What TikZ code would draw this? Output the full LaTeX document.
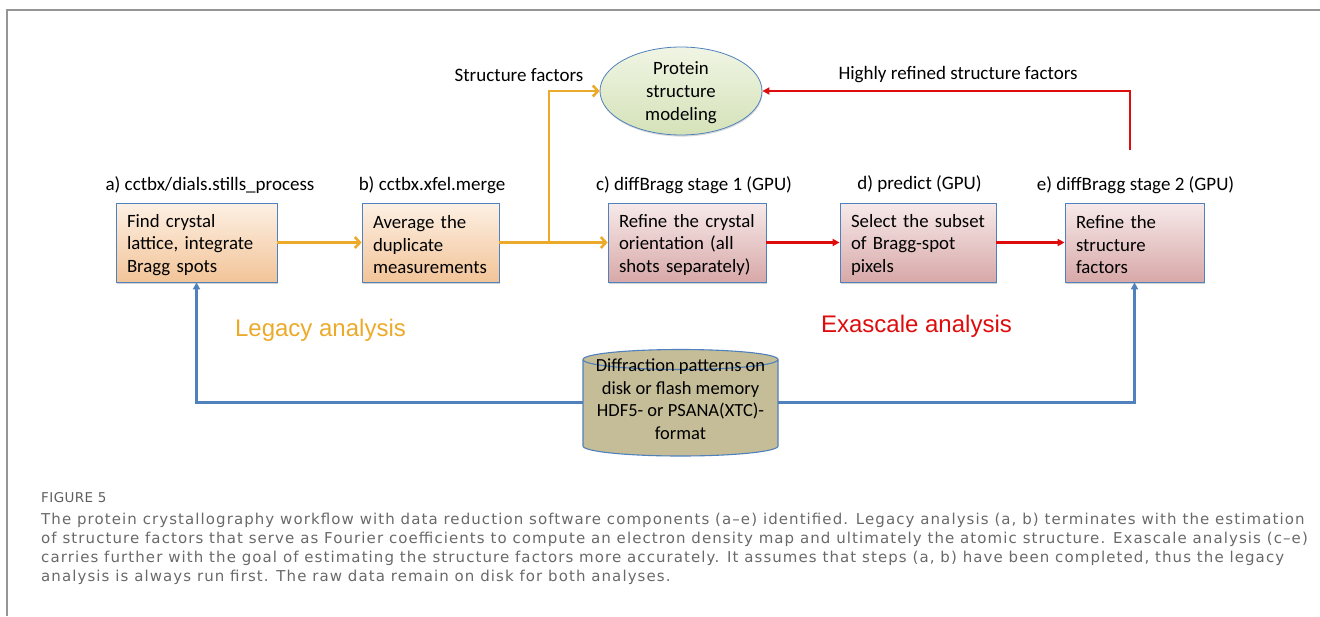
\documentclass[tikz,border=0pt]{standalone}
\usepackage{fontspec}
\setmainfont{Carlito}
\newfontfamily\capfont[LetterSpace=7.2]{DejaVu Sans}
\newfontfamily\figfont[LetterSpace=3]{DejaVu Sans}
\newfontfamily\arialfont{Liberation Sans}
\usetikzlibrary{arrows.meta,shadows,shapes.geometric,calc}
\definecolor{orng}{RGB}{236,170,42}
\definecolor{rd}{RGB}{222,12,12}
\definecolor{blu}{RGB}{79,129,189}
\definecolor{peachT}{RGB}{253,240,228}
\definecolor{peachB}{RGB}{242,196,152}
\definecolor{pinkT}{RGB}{247,234,234}
\definecolor{pinkB}{RGB}{216,168,168}
\definecolor{grnT}{RGB}{240,245,228}
\definecolor{grnB}{RGB}{212,226,184}
\definecolor{cyl}{RGB}{196,189,151}
\definecolor{capgray}{RGB}{105,105,105}
\definecolor{framegray}{RGB}{150,150,150}
\begin{document}
\hyphenpenalty=10000
\exhyphenpenalty=10000
\begin{tikzpicture}[x=1pt,y=-1pt,
  boxfont/.style={font=\fontsize{18.8}{22.5}\selectfont},
  proc/.style={draw=blu, line width=0.8pt, minimum height=79pt, inner xsep=11pt, inner ysep=0pt,
    align=left, boxfont, text height=18pt, drop shadow={shadow xshift=0.6pt, shadow yshift=-1.6pt, opacity=0.35}},
  legacybox/.style={proc, top color=peachT, bottom color=peachB},
  exabox/.style={proc, top color=pinkT, bottom color=pinkB},
  lbl/.style={font=\fontsize{19}{22}\selectfont, inner sep=0pt},
  oarr/.style={draw=orng, line width=2.8pt, -{Straight Barb[length=5pt,width=11pt,line width=2.6pt]}},
  rarr/.style={draw=rd, line width=2.6pt, -{Triangle[length=7pt,width=7pt]}},
  barr/.style={draw=blu, line width=2.4pt, -{Triangle[length=7pt,width=7pt]}},
  captxt/.style={font=\capfont\fontsize{15}{19}\selectfont, text=capgray, inner sep=0pt, anchor=west}
]
\useasboundingbox (0,0) rectangle (1320,616);
% frame
\draw[framegray, line width=2pt] (1320,10) -- (7,10) -- (7,616);

% boxes
\node[legacybox, text width=139pt] (a) at (196.5,242.5) {Find crystal\\lattice, integrate\\Bragg spots};
\node[legacybox, text width=115pt] (b) at (430.5,242.5) {Average the\\duplicate\\measurements};
\node[exabox, text width=136pt] (c) at (687,242.5) {Refine the crystal\\orientation (all\\shots separately)};
\node[exabox, text width=134pt] (d) at (918,242.5) {Select the subset\\of Bragg-spot\\pixels};
\node[exabox, text width=117pt] (e) at (1134.5,242.5) {Refine the\\structure\\factors};

% labels
\node[lbl] (la) at (210,185) {a) cctbx/dials.stills\_process};
\node[lbl] (lb) at (432,185) {b) cctbx.xfel.merge};
\node[lbl] (lc) at (694,185) {c) diffBragg stage 1 (GPU)};
\node[lbl] (ld) at (919.5,184) {d) predict (GPU)};
\node[lbl] (le) at (1135.5,185) {e) diffBragg stage 2 (GPU)};

% ellipse
\node[ellipse, draw=blu, line width=0.8pt, top color=grnT, bottom color=grnB, minimum width=162pt, minimum height=88pt,
  inner sep=0pt, align=center, font=\fontsize{18.8}{23}\selectfont, text depth=-10pt,
  drop shadow={shadow xshift=0.6pt, shadow yshift=-1.6pt, opacity=0.3}] (pm) at (681,91) {Protein\\structure\\modeling};

\node[lbl] (sf) at (519,75) {Structure factors};
\node[lbl] (hr) at (958,75) {Highly refined structure factors};

% orange connectors
\draw[oarr] (a) -- (b);
\draw[oarr] (b) -- (c);
\coordinate (br) at (549,242.5);
\draw[oarr] (br) |- (pm);

% red connectors
\draw[rarr] (c) -- (d);
\draw[rarr] (d) -- (e);
\coordinate (rs) at (1130,150);
\draw[rarr] (rs) |- (pm);

% analysis labels
\node[font=\arialfont\fontsize{24}{27}\selectfont, text=orng, inner sep=0pt] (leg) at (320.5,330) {Legacy analysis};
\node[font=\arialfont\fontsize{24}{27}\selectfont, text=rd, inner sep=0pt] (exa) at (916.5,326) {Exascale analysis};

% cylinder
\fill[cyl] (583,359.5) -- (583,446) arc[start angle=180, end angle=0, x radius=97.5, y radius=10] -- (778,359.5) -- cycle;
\draw[blu, line width=1.1pt] (583,359.5) -- (583,446) arc[start angle=180, end angle=0, x radius=97.5, y radius=10] -- (778,359.5);
\draw[blu, line width=1.1pt, fill=cyl] (680.5,359.5) ellipse[x radius=97.5, y radius=10];
\node[minimum width=195pt, minimum height=107pt, inner sep=0pt, align=center, text depth=7pt,
  font=\fontsize{18.5}{22.7}\selectfont] (db) at (680.5,402.5) {Diffraction patterns on\\disk or flash memory\\HDF5- or PSANA(XTC)-\\format};

% blue connectors
\draw[barr] (db.west) -| (a.south);
\draw[barr] (db.east) -| (e.south);

% caption
\node[captxt, font=\figfont\fontsize{13.5}{15}\selectfont, text=capgray!90!black] (fig) at (41,498) {FIGURE 5};
\node[captxt] (c1) at (41,520) {The protein crystallography workflow with data reduction software components (a–e) identified. Legacy analysis (a, b) terminates with the estimation};
\node[captxt] (c2) at (41,539) {of structure factors that serve as Fourier coefficients to compute an electron density map and ultimately the atomic structure. Exascale analysis (c–e)};
\node[captxt] (c3) at (41,558) {carries further with the goal of estimating the structure factors more accurately. It assumes that steps (a, b) have been completed, thus the legacy};
\node[captxt] (c4) at (41,577) {analysis is always run first. The raw data remain on disk for both analyses.};
\end{tikzpicture}
\end{document}
